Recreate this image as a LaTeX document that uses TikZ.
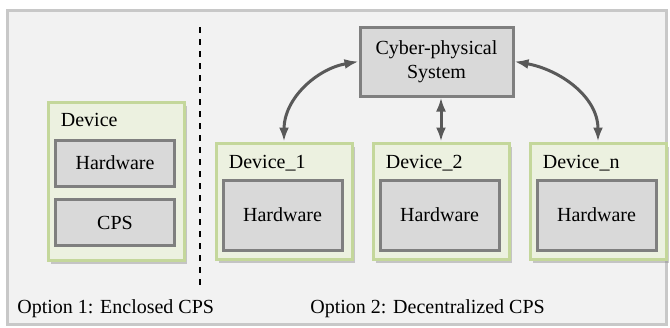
\documentclass[tikz,border=0pt]{standalone}
\usepackage{fontspec}
\setmainfont{Liberation Serif}
\newfontfamily\diagfont{Liberation Serif}
\usepackage{tikz}
\usetikzlibrary{positioning,arrows.meta,shadows}
\definecolor{FrameFill}{RGB}{242,242,242}
\definecolor{FrameEdge}{RGB}{200,200,200}
\definecolor{DevFill}{RGB}{236,241,224}
\definecolor{DevEdge}{RGB}{196,215,155}
\definecolor{HwFill}{RGB}{217,217,217}
\definecolor{HwEdge}{RGB}{127,127,127}
\definecolor{LinkGray}{RGB}{89,89,89}

\begin{document}
\begin{tikzpicture}[
x=0.5pt,y=-0.5pt,
font=\diagfont\fontsize{10pt}{12pt}\selectfont,
frame/.style={draw=FrameEdge,fill=FrameFill,line width=1.5pt},
device/.style={rectangle,draw=DevEdge,fill=DevFill,line width=1.5pt,minimum width=68pt,minimum height=58pt,drop shadow={shadow xshift=1.5pt,shadow yshift=-2pt,opacity=0.4}},
hw/.style={rectangle,draw=HwEdge,fill=HwFill,line width=1.5pt,minimum width=59.5pt,minimum height=35pt,align=center},
devlabel/.style={anchor=base west,inner sep=0pt},
optlabel/.style={anchor=base west,inner sep=0pt},
link/.style={{Latex[length=7pt,width=5pt]}-{Latex[length=7pt,width=5pt]},line width=1.5pt,draw=LinkGray}
]
\useasboundingbox (0,0) rectangle (670,327);
\draw[frame] (7,10) rectangle (666,324);
\coordinate (cut top) at (200,27);
\coordinate (cut bottom) at (200,285);
\draw[dashed,line width=0.8pt] (cut top) -- (cut bottom);

% option 1
\node[device,minimum height=79pt] (dev) at (116,181) {};
\node[devlabel] (devname) at ([xshift=7pt,yshift=-13pt]dev.north west) {Device};
\node[hw,minimum height=23pt] (hw) at (115,163) {Hardware};
\node[hw,minimum height=23pt] (cpsin) at (115,222.5) {CPS};
\node[optlabel] (opt1) at (17,313) {Option 1: Enclosed CPS};

% option 2
\node[device] (d1) at (284,201) {};
\node[device,right=9pt of d1] (d2) {};
\node[device,right=9pt of d2] (dn) {};
\node[devlabel] (d1name) at ([xshift=7pt,yshift=-13.5pt]d1.north west) {Device\_1};
\node[devlabel] (d2name) at ([xshift=7pt,yshift=-13.5pt]d2.north west) {Device\_2};
\node[devlabel] (dnname) at ([xshift=7pt,yshift=-13.5pt]dn.north west) {Device\_n};
\node[hw] (hw1) at ([xshift=-0.75pt,yshift=-7pt]d1.center) {Hardware};
\node[hw] (hw2) at ([xshift=-0.75pt,yshift=-7pt]d2.center) {Hardware};
\node[hw] (hwn) at ([xshift=-0.75pt,yshift=-7pt]dn.center) {Hardware};
\node[hw,minimum width=76.5pt,minimum height=34.5pt] (cps) at (436.5,61.5) {Cyber-physical\\System};
\node[optlabel] (opt2) at (310,313) {Option 2: Decentralized CPS};

\draw[link] (cps.west) to[out=190,in=90] (d1.north);
\draw[link] (d2.north |- cps.south) -- (d2.north);
\draw[link] (cps.east) to[out=-10,in=90] (dn.north);
\end{tikzpicture}
\end{document}
